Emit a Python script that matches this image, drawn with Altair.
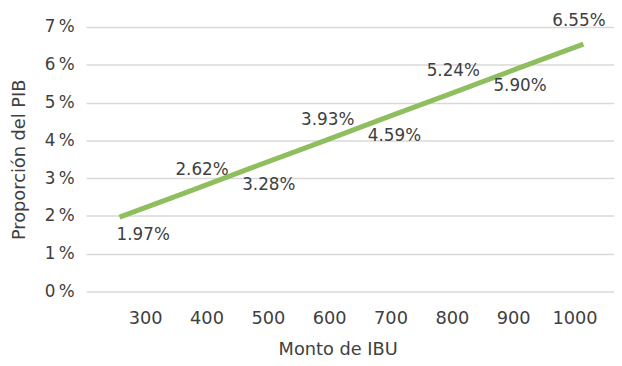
import altair as alt
import pandas as pd

# Data
monto = [300, 400, 500, 600, 700, 800, 900, 1000]
proporcion = [1.97, 2.62, 3.28, 3.93, 4.59, 5.24, 5.90, 6.55]
x_ticks = [300, 400, 500, 600, 700, 800, 900, 1000]
y_ticks = [0, 1, 2, 3, 4, 5, 6, 7]

df = pd.DataFrame({"monto": monto, "p": proporcion})
df["idx"] = range(len(df))

FONT = "DejaVu Sans"
TXT = "#404040"

x_scale = alt.Scale(domain=[249.4, 1046.2], nice=False, zero=False)
y_scale = alt.Scale(domain=[0, 7], nice=False, zero=True)

x_axis = alt.Axis(
    values=x_ticks,
    format="d",
    title="Monto de IBU",
    grid=False,
    domain=False,
    ticks=False,
    tickSize=0,
    labelPadding=18,
    labelOffset=alt.ExprRef(expr="26 - 0.05 * (datum.value - 300)"),
    labelFontSize=18,
    labelFont=FONT,
    labelColor=TXT,
    labelOverlap=False,
    titleFont=FONT,
    titleFontSize=18,
    titleFontWeight="normal",
    titleColor=TXT,
    titleX=255,
    titleY=64,
    titleBaseline="alphabetic",
)
y_axis = alt.Axis(
    values=y_ticks,
    title="Proporción del PIB",
    labelExpr="datum.value + '\u2009%'",
    grid=True,
    gridColor="#D9D9D9",
    gridWidth=1.5,
    domain=False,
    ticks=False,
    tickSize=0,
    labelPadding=12,
    labelFontSize=17,
    labelFont=FONT,
    labelColor=TXT,
    labelOverlap=False,
    titleFont=FONT,
    titleFontSize=18,
    titleFontWeight="normal",
    titleColor=TXT,
    titleX=-62,
    titleBaseline="alphabetic",
)

x_enc = alt.X("monto:Q", scale=x_scale, axis=x_axis)
y_enc = alt.Y("p:Q", scale=y_scale, axis=y_axis)

base = alt.Chart(df)

line = base.mark_line(color="#8FBE5F", strokeWidth=5, strokeCap="butt").encode(
    x=x_enc, y=y_enc
)

text = base.transform_calculate(
    lab="format(datum.p, '.2f') + '%'"
).mark_text(
    font=FONT,
    fontSize=17,
    color=TXT,
    baseline="middle",
    align="center",
    dx=alt.ExprRef(expr="20 - 3.5 * datum.idx + (datum.idx % 2 == 0 ? 4 : 0)"),
    dy=alt.ExprRef(expr="datum.idx % 2 == 1 ? -23 : 18"),
).encode(x=x_enc, y=y_enc, text="lab:N")

chart = (
    alt.layer(line, text)
    .properties(
        width=535,
        height=268,
        autosize=alt.AutoSizeParams(type="none"),
        padding={"left": 79, "top": 17, "right": 0, "bottom": 65},
        background="white",
    )
    .configure_view(stroke=None)
)

chart.save("out.html", embed_options={"renderer": "svg", "actions": False})
